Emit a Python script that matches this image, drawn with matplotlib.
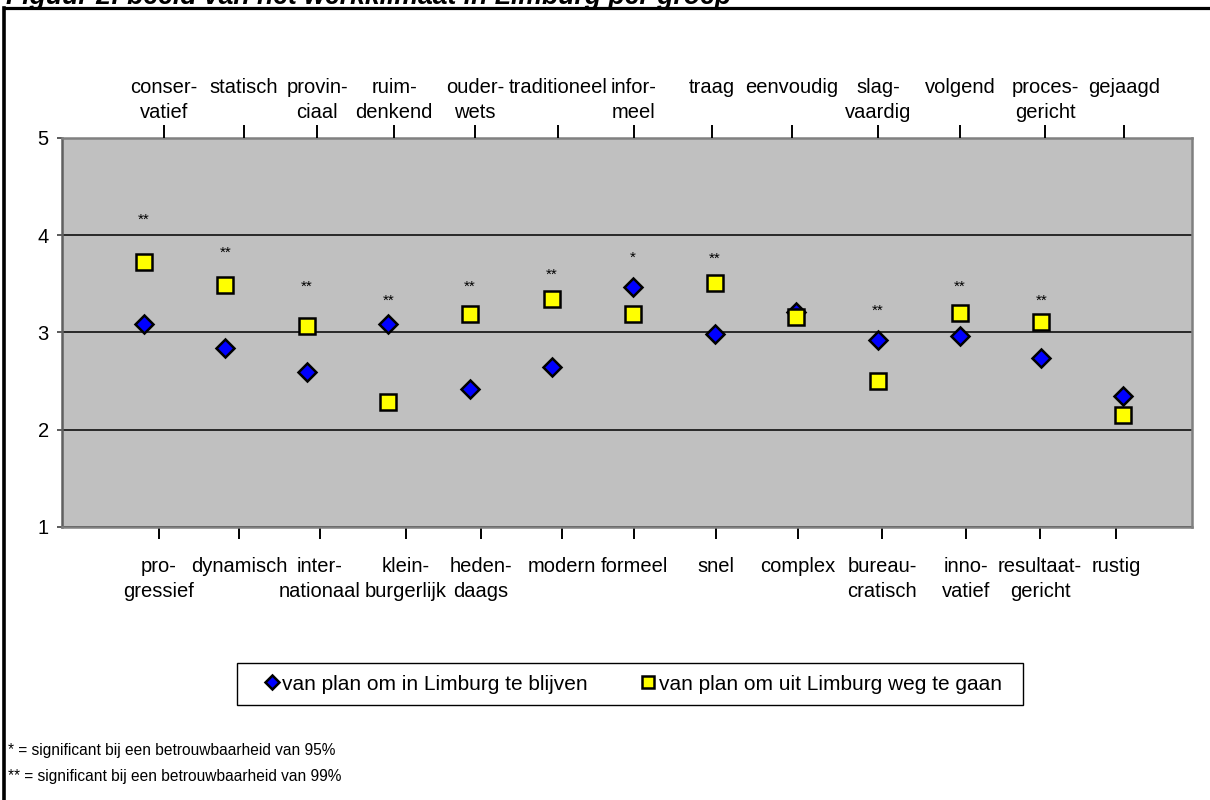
import numpy as np
import matplotlib.pyplot as plt
from matplotlib.lines import Line2D
from matplotlib.patches import Rectangle

plt.rcParams['font.family'] = ['Liberation Sans', 'DejaVu Sans']

# linker en rechter pool van elke schaal
top_labels = ['conser-\nvatief', 'statisch', 'provin-\nciaal', 'ruim-\ndenkend', 'ouder-\nwets',
              'traditioneel', 'infor-\nmeel', 'traag', 'eenvoudig', 'slag-\nvaardig', 'volgend',
              'proces-\ngericht', 'gejaagd']
bottom_labels = ['pro-\ngressief', 'dynamisch', 'inter-\nnationaal', 'klein-\nburgerlijk', 'heden-\ndaags',
                 'modern', 'formeel', 'snel', 'complex', 'bureau-\ncratisch', 'inno-\nvatief',
                 'resultaat-\ngericht', 'rustig']

# gemiddelde score per groep
blijven = [3.09, 2.84, 2.59, 3.09, 2.42, 2.65, 3.47, 2.98, 3.21, 2.92, 2.96, 2.74, 2.35]
weggaan = [3.72, 3.49, 3.07, 2.29, 3.19, 3.34, 3.19, 3.51, 3.16, 2.50, 3.20, 3.11, 2.15]

# significantie-sterretjes en hoogte van het label
sig = ['**', '**', '**', '**', '**', '**', '*', '**', '', '**', '**', '**', '']
sig_y = [4.16, 3.82, 3.47, 3.33, 3.47, 3.59, 3.77, 3.76, 0, 3.22, 3.47, 3.33, 0]

W, H = 1210, 800
fig = plt.figure(figsize=(W / 100, H / 100), dpi=100)

# plot area in pixels
L, R, T, B = 62, 1192, 138, 527
PX = 81.6  # pixels per category
ax = fig.add_axes([L / W, 1 - B / H, (R - L) / W, (B - T) / H])
ax.set_facecolor('#C0C0C0')

x = np.arange(1, len(blijven) + 1)
ax.plot(x, blijven, ls='none', marker='D', ms=9.2, mfc='#0000FF', mec='black', mew=1.8,
        label='van plan om in Limburg te blijven', zorder=3)
ax.plot(x, weggaan, ls='none', marker='s', ms=11, mfc='#FFFF00', mec='black', mew=1.8,
        label='van plan om uit Limburg weg te gaan', zorder=4)

for xi, s, sy in zip(x, sig, sig_y):
    if s:
        ax.text(xi, sy, s, ha='center', va='center', fontsize=11, zorder=5)

xmax = (R - L) / PX
ax.set_xlim(0, xmax)
ax.set_ylim(1, 5)
ax.set_yticks([1, 2, 3, 4, 5])
ax.yaxis.grid(True, color='black', lw=1.1)
ax.set_axisbelow(True)
ax.tick_params(axis='y', length=3.6, width=1.2, pad=6, labelsize=14.5, color='#404040')

for sp in ax.spines.values():
    sp.set_color('#808080')
    sp.set_linewidth(1.8)
ax.spines['left'].set_color('#606060')

# tick marks of the label boxes (pixel columns)
top_px = np.array([164, 244, 317, 394, 475, 558, 634, 712, 792, 878, 960, 1045, 1124])
bot_px = np.array([159, 239, 320, 406, 481, 562, 634, 716, 798, 882, 966, 1040, 1116])

# bottom scale labels
ax.set_xticks((bot_px - L) / PX)
ax.set_xticklabels(bottom_labels, fontsize=14.5, linespacing=1.4)
ax.tick_params(axis='x', length=8.6, width=1.4, pad=13, color='black')

# top scale labels
ax2 = ax.twiny()
ax2.set_xlim(0, xmax)
ax2.set_xticks((top_px - L) / PX)
ax2.set_xticklabels(top_labels, fontsize=14.5, linespacing=1.45)
ax2.tick_params(axis='x', length=9.4, width=1.4, pad=34, color='black')
for t in ax2.get_xticklabels():
    t.set_va('top')
for sp in ax2.spines.values():
    sp.set_visible(False)

# legend box
fig.add_artist(Rectangle((237 / W, 1 - 705 / H), 786 / W, 42 / H, transform=fig.transFigure,
                         facecolor='white', edgecolor='black', lw=1.0, zorder=1))
h, lab = ax.get_legend_handles_labels()
fig.legend(h, lab, loc='center left', bbox_to_anchor=(261.5 / W, 1 - 684 / H),
           ncol=2, fontsize=15, markerscale=0.75, frameon=False, borderpad=0,
           handlelength=1.0, handletextpad=0.0, columnspacing=2.4, borderaxespad=0)

# footnotes
fig.text(8 / W, 1 - 750 / H, '* = significant bij een betrouwbaarheid van 95%',
         fontsize=11.2, va='center')
fig.text(8 / W, 1 - 777 / H, '** = significant bij een betrouwbaarheid van 99%',
         fontsize=11.2, va='center')

# caption and surrounding frame
fig.text(6 / W, 1 - 3.5 / H, 'Figuur 2: beeld van het werkklimaat in Limburg per groep',
         fontsize=19.2, fontweight='bold', fontstyle='italic', va='baseline')
fig.add_artist(Line2D([3.5 / W, 1.01], [1 - 8.3 / H, 1 - 8.3 / H], color='black', lw=2.3,
                      transform=fig.transFigure, solid_capstyle='projecting'))
fig.add_artist(Line2D([3.5 / W, 3.5 / W], [1 - 8.3 / H, -0.01], color='black', lw=2.6,
                      transform=fig.transFigure, solid_capstyle='projecting'))

fig.savefig('out.png', dpi=100)
